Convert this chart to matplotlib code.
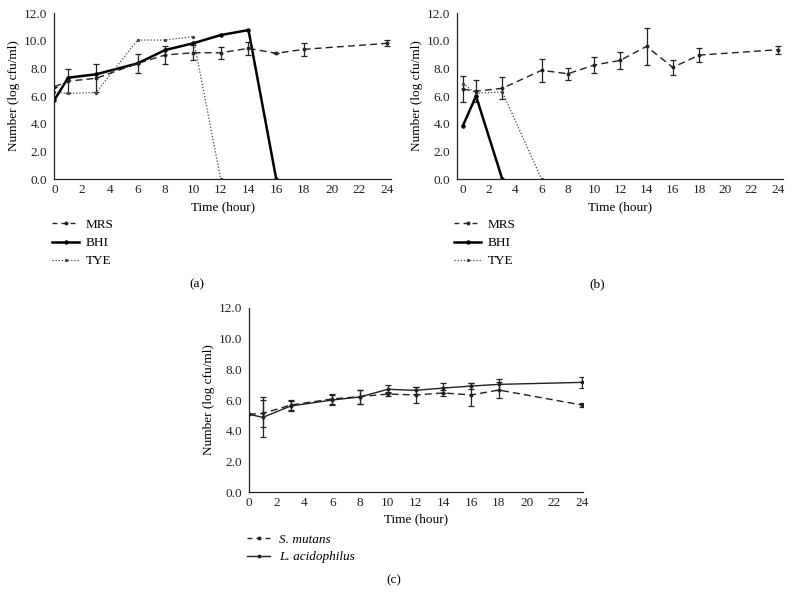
import matplotlib
matplotlib.use("Agg")
import matplotlib.pyplot as plt
import numpy as np

plt.rcParams['font.family'] = ['Liberation Serif', 'DejaVu Serif']
plt.rcParams['font.size'] = 9.5

# ---- Panel (a) ----
t_a_mrs = [0, 1, 3, 6, 8, 10, 12, 14, 16, 18, 24]
mrs_a = [6.67, 7.08, 7.28, 8.36, 8.97, 9.13, 9.13, 9.45, 9.09, 9.38, 9.81]
mrs_a_err = [0, 0.88, 1.02, 0.66, 0.66, 0.54, 0.45, 0.48, 0, 0.45, 0.22]
t_a_bhi = [0, 1, 3, 6, 8, 10, 12, 14, 16]
bhi_a = [5.71, 7.33, 7.57, 8.36, 9.33, 9.81, 10.41, 10.77, 0.0]
t_a_tye = [0, 1, 3, 6, 8, 10, 12]
tye_a = [6.3, 6.2, 6.24, 10.05, 10.05, 10.29, 0.0]

# ---- Panel (b) ----
t_b_mrs = [0, 1, 3, 6, 8, 10, 12, 14, 16, 18, 24]
mrs_b = [6.5, 6.35, 6.56, 7.86, 7.61, 8.24, 8.58, 9.59, 8.07, 8.96, 9.35]
mrs_b_err = [0.93, 0.8, 0.8, 0.83, 0.42, 0.59, 0.64, 1.35, 0.53, 0.48, 0.29]
t_b_bhi = [0, 1, 3]
bhi_b = [3.86, 6.0, 0.0]
t_b_tye = [0, 1, 3, 6]
tye_b = [6.9, 6.2, 6.3, 0.0]

# ---- Panel (c) ----
t_c = [0, 1, 3, 6, 8, 10, 12, 14, 16, 18, 24]
smutans = [5.07, 5.13, 5.67, 6.07, 6.22, 6.39, 6.33, 6.46, 6.33, 6.65, 5.67]
smutans_err = [0, 0.9, 0.3, 0.3, 0.45, 0.15, 0.55, 0.2, 0.75, 0.55, 0.15]
lacid = [5.07, 4.87, 5.61, 6.0, 6.2, 6.7, 6.63, 6.78, 6.91, 7.02, 7.15]
lacid_err = [0, 1.3, 0.3, 0.3, 0.45, 0.25, 0.25, 0.3, 0.2, 0.35, 0.38]

xticks = list(range(0, 25, 2))
yticks = [0, 2, 4, 6, 8, 10, 12]
ytick_labels = [f"{v:.1f}" for v in yticks]

FS = 9.5
fig = plt.figure(figsize=(7.93, 6.07), dpi=100)

def style(ax, xlim):
    ax.set_xlim(*xlim)
    ax.set_ylim(0, 12)
    ax.set_xticks(xticks)
    ax.set_yticks(yticks)
    ax.set_yticklabels(ytick_labels)
    for s in ['top', 'right']:
        ax.spines[s].set_visible(False)
    for s in ['left', 'bottom']:
        ax.spines[s].set_linewidth(0.9)
        ax.spines[s].set_color('#222222')
    ax.tick_params(axis='both', length=0, labelsize=FS, colors='#222222')
    ax.tick_params(axis='x', pad=3.5)
    ax.tick_params(axis='y', pad=5)
    ax.set_xlabel("Time (hour)", labelpad=3.5, fontsize=FS)
    ax.set_ylabel("Number (log cfu/ml)", labelpad=3, fontsize=FS)

ekw = dict(ecolor='#222222', elinewidth=0.9, capsize=2, capthick=0.9)
dash = (0, (5, 3))
dot = (0, (1, 1.5))

axa = fig.add_axes([0.0685, 0.705, 0.425, 0.2735])
axa.errorbar(t_a_mrs, mrs_a, yerr=mrs_a_err, color='#222222', ls=dash, lw=1.0,
             marker='o', ms=1.8, **ekw)
axa.plot(t_a_bhi, bhi_a, color='black', lw=1.8, marker='o', ms=2.2)
axa.plot(t_a_tye, tye_a, color='#444444', ls=dot, lw=0.9, marker='o', ms=1.4)
style(axa, (0, 24.3))
h_a = [plt.Line2D([], [], color='#222222', ls=(0, (3.5, 3)), lw=1.0, marker='o', ms=1.8),
       plt.Line2D([], [], color='black', lw=1.8, marker='o', ms=2.2),
       plt.Line2D([], [], color='#444444', ls=dot, lw=0.9, marker='o', ms=1.4)]
leg_kw = dict(loc='upper left', frameon=False, handlelength=2.0, handletextpad=0.55,
              labelspacing=0.45, borderpad=0, borderaxespad=0, fontsize=FS)
fig.legend(h_a, ['MRS', 'BHI', 'TYE'], bbox_to_anchor=(0.066, 0.6395), **leg_kw)
fig.text(0.248, 0.532, "(a)", ha='center', va='center', fontsize=FS)

axb = fig.add_axes([0.5763, 0.705, 0.411, 0.2735])
axb.errorbar(t_b_mrs, mrs_b, yerr=mrs_b_err, color='#222222', ls=dash, lw=1.0,
             marker='o', ms=1.8, **ekw)
axb.plot(t_b_bhi, bhi_b, color='black', lw=1.8, marker='o', ms=2.2)
axb.plot(t_b_tye, tye_b, color='#444444', ls=dot, lw=0.9, marker='o', ms=1.4)
style(axb, (-0.45, 24.4))
fig.legend(h_a, ['MRS', 'BHI', 'TYE'], bbox_to_anchor=(0.573, 0.6395), **leg_kw)
fig.text(0.753, 0.532, "(b)", ha='center', va='center', fontsize=FS)

axc = fig.add_axes([0.314, 0.1894, 0.421, 0.3032])
axc.errorbar(t_c, smutans, yerr=smutans_err, color='#222222', ls=dash, lw=1.0,
             marker='o', ms=1.8, **ekw)
axc.errorbar(t_c, lacid, yerr=lacid_err, color='#222222', ls='-', lw=1.0,
             marker='o', ms=1.8, **ekw)
style(axc, (0, 24.05))
h_c = [plt.Line2D([], [], color='#222222', ls=(0, (3.5, 3)), lw=1.0, marker='o', ms=1.8),
       plt.Line2D([], [], color='#222222', lw=1.0, marker='o', ms=1.8)]
leg_c = dict(leg_kw)
leg_c.update(handlelength=1.7, handletextpad=0.7, labelspacing=0.4)
leg_c.pop('fontsize')
fig.legend(h_c, ['S. mutans', 'L. acidophilus'], bbox_to_anchor=(0.312, 0.121),
           prop={'style': 'italic', 'size': FS}, **leg_c)
fig.text(0.497, 0.0445, "(c)", ha='center', va='center', fontsize=FS)

fig.savefig("out.png", dpi=100)
